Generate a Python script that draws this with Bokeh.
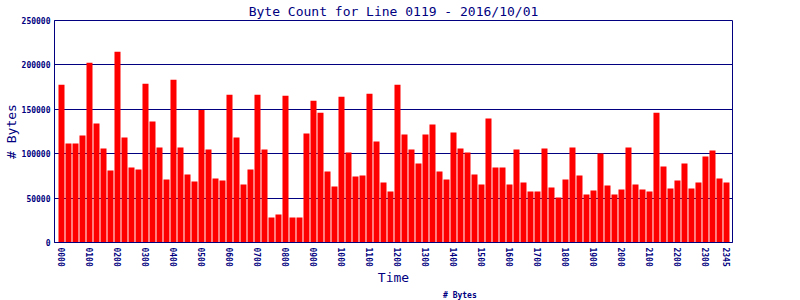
from bokeh.plotting import figure
from bokeh.layouts import column
from bokeh.models import (Range1d, FixedTicker, PrintfTickFormatter, Legend,
                          LegendItem, ColumnDataSource)
from bokeh.embed import file_html
from bokeh.resources import INLINE

title_text = "Byte Count for Line 0119 - 2016/10/01"

# 15-minute slots of the day
slots = [f"{h:02d}{m:02d}" for h in range(24) for m in (0, 15, 30, 45)]

byte_counts = [
    177750, 111375, 111375, 120375,   # 00
    202500, 133875, 105750, 81000,    # 01
    214875, 118125, 84375, 82125,     # 02
    178875, 136125, 106875, 70875,    # 03
    183375, 106875, 76500, 68625,     # 04
    149250, 104625, 72000, 69750,     # 05
    166500, 118125, 65250, 82125,     # 06
    166500, 104625, 28125, 31500,     # 07
    165375, 28125, 28125, 122625,     # 08
    159750, 146250, 79875, 63000,     # 09
    164250, 101250, 74250, 75375,     # 10
    167625, 113625, 67500, 57375,     # 11
    177750, 121500, 104625, 88875,    # 12
    121500, 132750, 79875, 70875,     # 13
    123750, 105750, 101250, 76500,    # 14
    65250, 139500, 84375, 84375,      # 15
    65250, 104625, 67500, 57375,      # 16
    57375, 105750, 61875, 50625,      # 17
    70875, 106875, 75375, 54000,      # 18
    58500, 100125, 64125, 54000,      # 19
    59625, 106875, 65250, 59625,      # 20
    57375, 146250, 85500, 60750,      # 21
    69750, 88875, 60750, 67500,       # 22
    96750, 103500, 72000, 67500,      # 23
]

x_tick_labels = ["0000", "0100", "0200", "0300", "0400", "0500", "0600", "0700",
                 "0800", "0900", "1000", "1100", "1200", "1300", "1400", "1500",
                 "1600", "1700", "1800", "1900", "2000", "2100", "2200", "2300",
                 "2345"]
y_ticks = [0, 50000, 100000, 150000, 200000, 250000]
series_name = "# Bytes"

NAVY = "#000080"
MONO = "DejaVu Sans Mono"

src = ColumnDataSource(dict(x=list(range(len(byte_counts))), top=byte_counts,
                            slot=slots))

p = figure(frame_width=678, frame_height=222, output_backend="svg",
           toolbar_location=None,
           x_range=Range1d(-1.0, 95.86), y_range=Range1d(0, 250000),
           min_border_left=52, min_border_right=70, min_border_top=20,
           min_border_bottom=46, background_fill_color="white",
           border_fill_color="white")

r = p.vbar(x="x", top="top", width=0.86, source=src, fill_color="#ff0000",
           line_color=None)

p.title.text = title_text
p.title.align = "center"
p.title.text_font = MONO
p.title.text_font_size = "13px"
p.title.text_font_style = "normal"
p.title.text_color = NAVY
p.title.standoff = 3

tick_pos = [slots.index(t) for t in x_tick_labels]
xa = p.xaxis[0]
xa.ticker = FixedTicker(ticks=tick_pos)
xa.major_label_overrides = {i: t for i, t in zip(tick_pos, x_tick_labels)}
xa.major_label_orientation = "vertical"
xa.axis_label = "Time"

ya = p.yaxis[0]
ya.ticker = FixedTicker(ticks=y_ticks)
ya.formatter = PrintfTickFormatter(format="%d")
ya.axis_label = "# Bytes"

for ax in (xa, ya):
    ax.axis_line_color = NAVY
    ax.axis_line_width = 1
    ax.major_tick_line_color = None
    ax.minor_tick_line_color = None
    ax.major_tick_out = 0
    ax.major_tick_in = 0
    ax.minor_tick_out = 0
    ax.major_label_text_font = MONO
    ax.major_label_text_font_size = "8px"
    ax.major_label_text_font_style = "bold"
    ax.major_label_text_color = NAVY
    ax.major_label_standoff = 5
    ax.axis_label_text_font = MONO
    ax.axis_label_text_font_size = "13px"
    ax.axis_label_text_font_style = "normal"
    ax.axis_label_text_color = NAVY
    ax.axis_label_standoff = 0
ya.major_label_standoff = 4

p.xgrid.grid_line_color = None
p.ygrid.ticker = FixedTicker(ticks=y_ticks)
p.ygrid.grid_line_color = NAVY
p.ygrid.grid_line_width = 1
p.ygrid.grid_line_alpha = 1.0

p.outline_line_color = NAVY
p.outline_line_width = 1
p.outline_line_alpha = 1.0

# small strip under the chart that carries the legend
lp = figure(width=800, height=12, output_backend="svg", toolbar_location=None,
            x_range=Range1d(0, 1), y_range=Range1d(0, 1),
            x_axis_location=None, y_axis_location=None,
            min_border=0, min_border_left=0, min_border_right=0,
            min_border_top=0, min_border_bottom=0,
            background_fill_color="white", border_fill_color="white")
lp.xgrid.visible = False
lp.ygrid.visible = False
lp.outline_line_color = None
leg_r = lp.vbar(x=[], top=[], width=0.5, fill_color="#ff0000",
                line_color="#808080", line_width=1)

legend = Legend(items=[LegendItem(label=series_name, renderers=[leg_r])],
                orientation="horizontal", location=(373, 0))
legend.label_text_font = MONO
legend.label_text_font_size = "8px"
legend.label_text_font_style = "bold"
legend.label_text_color = NAVY
legend.glyph_width = 13
legend.glyph_height = 8
legend.label_standoff = 3
legend.label_height = 8
legend.label_text_baseline = "middle"
legend.border_line_color = None
legend.background_fill_alpha = 0
legend.margin = 0
legend.padding = 1
lp.add_layout(legend, "center")

layout = column(p, lp, spacing=0)
open("out.html", "w").write(file_html(layout, INLINE))
